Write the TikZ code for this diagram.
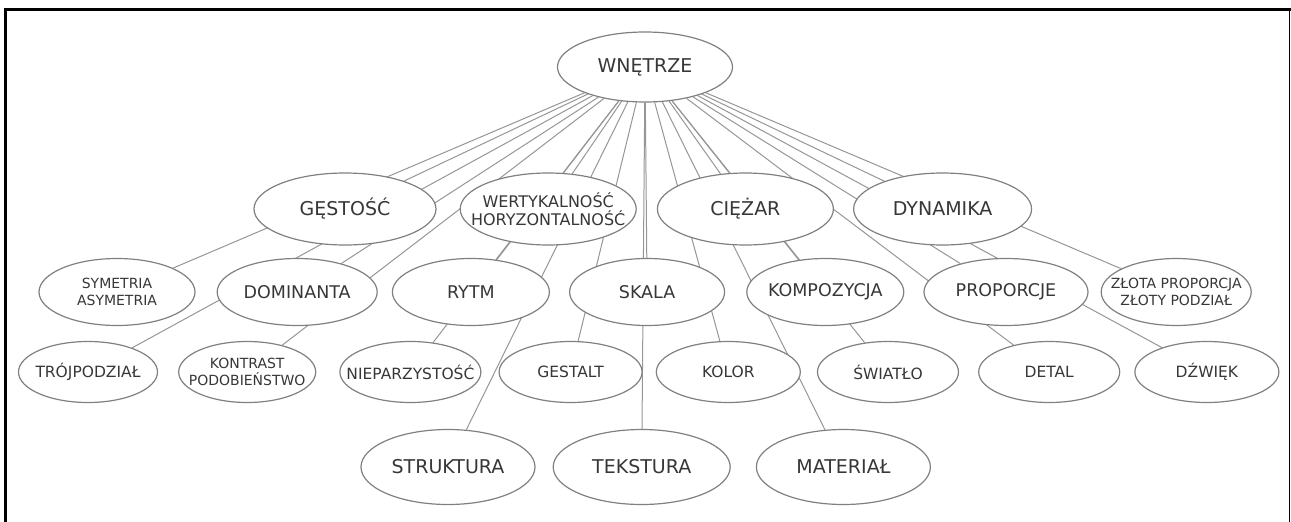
\documentclass[tikz,border=0pt]{standalone}
\usepackage{fontspec}
\setmainfont{DejaVu Sans}
\usetikzlibrary{shapes.geometric, positioning, backgrounds}
\definecolor{ellipsegray}{RGB}{128,128,128}
\definecolor{linkgray}{RGB}{150,150,150}
\definecolor{labelgray}{RGB}{55,55,55}
\tikzset{
    topic/.style={
        ellipse, draw=ellipsegray, line width=1.2pt, fill=white, text=labelgray,
        inner xsep=-30pt, inner ysep=-20pt, align=center,
        font=\fontsize{17.5}{21}\selectfont
    },
    maintopic/.style={topic, minimum height=72pt, font=\fontsize{19}{23}\selectfont},
    subtopic/.style={topic, minimum height=67pt},
    leaftopic/.style={topic, minimum height=61pt, font=\fontsize{15.5}{18}\selectfont},
    pairtopic/.style={font=\fontsize{14}{16.5}\selectfont},
    link/.style={draw=linkgray, line width=1pt},
    frame/.style={draw=black, line width=3pt}
}

\begin{document}
\begin{tikzpicture}[x=1pt, y=-1pt]
\useasboundingbox (0,0) rectangle (1291,522);

% Frame
\draw[frame] (5.5,522) -- (5.5,9.5) -- (1291,9.5);
\draw[frame, line width=1.8pt] (1289.5,9.5) -- (1289.5,522);

% Root
\node[maintopic, minimum width=175pt, minimum height=70pt] (wnetrze) at (645,67) {WNĘTRZE};

% Second row
\node[maintopic, minimum width=182pt] (gestosc) at (345,209) {GĘSTOŚĆ};
\node[maintopic, minimum width=176pt, font=\fontsize{16}{18.5}\selectfont, right=23pt of gestosc] (wertykal) {WERTYKALNOŚĆ\\HORYZONTALNOŚĆ};
\node[maintopic, minimum width=176pt, right=20pt of wertykal] (ciezar) {CIĘŻAR};
\node[maintopic, minimum width=178pt, right=19pt of ciezar] (dynamika) {DYNAMIKA};

% Third row
\node[subtopic, pairtopic, minimum width=156pt] (symetria) at (117,292) {SYMETRIA\\ASYMETRIA};
\node[subtopic, minimum width=160pt, right=21pt of symetria] (dominanta) {DOMINANTA};
\node[subtopic, minimum width=157pt, right=14pt of dominanta] (rytm) {RYTM};
\node[subtopic, minimum width=155pt, right=19pt of rytm] (skala) {SKALA};
\node[subtopic, minimum width=157pt, right=21pt of skala] (kompozycja) {KOMPOZYCJA};
\node[subtopic, minimum width=164pt, right=19pt of kompozycja] (proporcje) {PROPORCJE};
\node[subtopic, pairtopic, minimum width=150pt, right=12pt of proporcje] (zlota) {ZŁOTA PROPORCJA\\ZŁOTY PODZIAŁ};

% Fourth row
\node[leaftopic, minimum width=139pt] (trojpodzial) at (88,372) {TRÓJPODZIAŁ};
\node[leaftopic, pairtopic, minimum width=137pt, right=20pt of trojpodzial] (kontrast) {KONTRAST\\PODOBIEŃSTWO};
\node[leaftopic, minimum width=141pt, right=23pt of kontrast] (nieparzystosc) {NIEPARZYSTOŚĆ};
\node[leaftopic, minimum width=143pt, right=17pt of nieparzystosc] (gestalt) {GESTALT};
\node[leaftopic, minimum width=144pt, right=13pt of gestalt] (kolor) {KOLOR};
\node[leaftopic, minimum width=141pt, right=16pt of kolor] (swiatlo) {ŚWIATŁO};
\node[leaftopic, minimum width=141pt, right=19pt of swiatlo] (detal) {DETAL};
\node[leaftopic, minimum width=144pt, right=14pt of detal] (dzwiek) {DŹWIĘK};

% Fifth row
\node[maintopic, minimum width=174pt, minimum height=75pt] (struktura) at (448,467) {STRUKTURA};
\node[maintopic, minimum width=177pt, minimum height=75pt, right=17pt of struktura] (tekstura) {TEKSTURA};
\node[maintopic, minimum width=174pt, minimum height=75pt, right=25pt of tekstura] (material) {MATERIAŁ};

% Links from the root
\begin{scope}[on background layer]
\foreach \sub in {gestosc, wertykal, ciezar, dynamika, symetria, dominanta, rytm, skala, kompozycja, proporcje, zlota, trojpodzial, kontrast, nieparzystosc, gestalt, kolor, swiatlo, detal, dzwiek, struktura, tekstura, material}
    \draw[link] (wnetrze) -- (\sub);
\end{scope}

\end{tikzpicture}
\end{document}
